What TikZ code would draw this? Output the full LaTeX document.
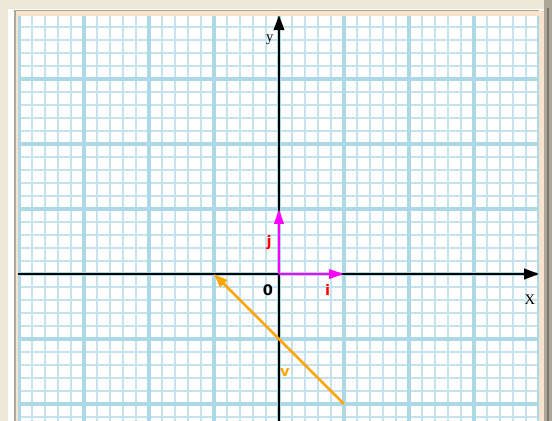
\documentclass[tikz,border=0pt]{standalone}
\usepackage{fontspec}
\setmainfont{Liberation Serif}
\newfontfamily\lblfont{DejaVu Sans}
\usepackage{xcolor}
\usetikzlibrary{arrows.meta,calc,positioning}
\definecolor{winbeige}{HTML}{ECE9D8}
\definecolor{winpeach}{HTML}{F8E4CC}
\definecolor{wingrey}{HTML}{ACA899}
\definecolor{gridminor}{HTML}{C4E3EC}
\definecolor{gridmajor}{HTML}{ADD8E6}
\definecolor{vecorange}{HTML}{FFA500}
\definecolor{vecmagenta}{HTML}{FF00FF}
\definecolor{lblred}{HTML}{FF0000}
\tikzset{
  minorline/.style={gridminor,line width=0.55pt},
  majorline/.style={gridmajor,line width=1.6pt},
  axisline/.style={black,line width=0.95pt,-{Triangle[length=6.5pt,width=4.6pt]}},
  unitvec/.style={vecmagenta,line width=1.2pt,-{Triangle[length=6.5pt,width=4pt]}},
  vvec/.style={vecorange,line width=1.1pt,-{Triangle[length=6pt,width=4.2pt]}},
  axislbl/.style={inner sep=0pt,font=\fontsize{6.4}{7}\selectfont},
  veclbl/.style={inner sep=0pt,font=\lblfont\bfseries\fontsize{6.4}{7}\selectfont}
}
\begin{document}
\begin{tikzpicture}
\useasboundingbox (-4.2923,-2.2615) rectangle (4.2,4.2154);
% window frame
\fill[winbeige] (-4.2923,-2.2615) rectangle (4.2,4.2154);
\fill[white] (-4.169,-2.2615) rectangle (4.092,4.077);
\fill[winpeach] (-4.077,-2.2615) rectangle (4.077,4.046);
\fill[wingrey] (-4.077,-2.2615) rectangle (-4.046,4.046);
\fill[wingrey] (-4.077,4.046) rectangle (4.0,4.062);
\fill[wingrey] (4.077,-2.2615) rectangle (4.2,4.2154);
\fill[wingrey!70!black] (4.123,-2.2615) rectangle (4.154,4.1);
\fill[white] (-4.015,-2.2615) rectangle (4.0,3.969);
% grid paper
\begin{scope}
\clip (-4.015,-2.2615) rectangle (4.0,3.969);
\draw[minorline] (-4.2,-2.4) grid[step=0.2] (4.2,4.2);
\draw[majorline] (-5,-3) grid[step=1] (5,5);
\end{scope}
% axes
\coordinate (O) at (0,0);
\coordinate (xstart) at (-4.015,0);
\coordinate (xend) at (4.0,0);
\coordinate (ystart) at (0,-2.2615);
\coordinate (yend) at (0,3.98);
\draw[axisline] (xstart) -- (xend);
\draw[axisline] (ystart) -- (yend);
\node[axislbl] (ylbl) at (-0.14,3.6) {y};
\node[axislbl] (xlbl) at (3.86,-0.4) {X};
\node[veclbl] (olbl) at (-0.17,-0.25) {0};
% vectors
\coordinate (itip) at (1,0);
\coordinate (jtip) at (0,1);
\coordinate (vtail) at (1,-2);
\coordinate (vtip) at (-1,0);
\draw[unitvec] (O) -- (itip);
\draw[unitvec] (O) -- (jtip);
\draw[vvec] (vtail) -- (vtip);
\node[veclbl,lblred] (ilbl) at (0.75,-0.25) {i};
\node[veclbl,lblred] (jlbl) at (-0.15,0.49) {j};
\node[veclbl,vecorange] (vlbl) at (0.09,-1.52) {v};
\end{tikzpicture}
\end{document}
